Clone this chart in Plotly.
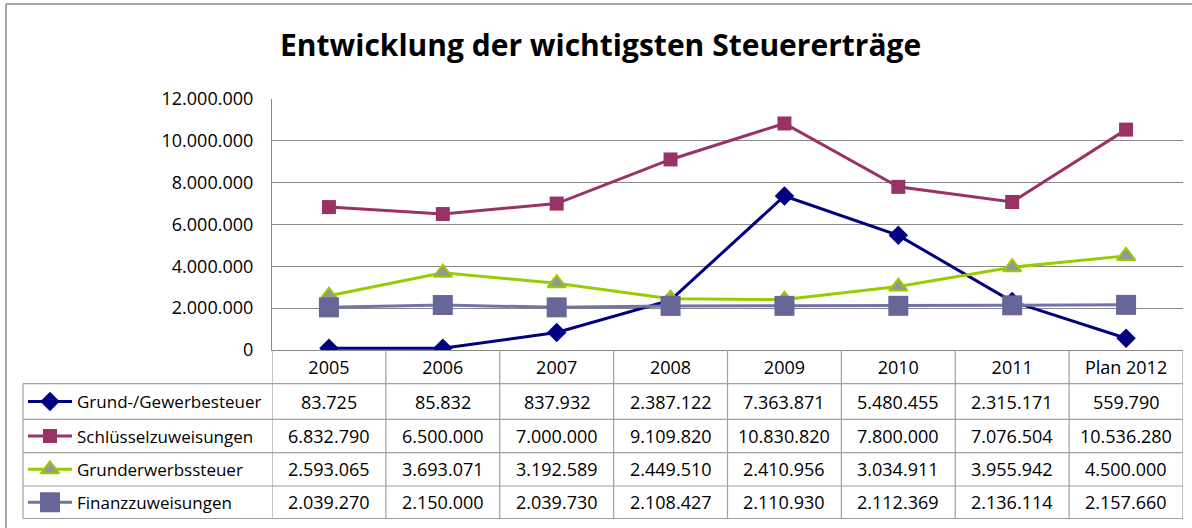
import plotly.graph_objects as go

# ---------------- data ----------------
categories = ["2005", "2006", "2007", "2008", "2009", "2010", "2011", "Plan 2012"]
series_names = ["Grund-/Gewerbesteuer", "Schlüsselzuweisungen", "Grunderwerbssteuer", "Finanzzuweisungen"]
grund_gewerbe = [83725, 85832, 837932, 2387122, 7363871, 5480455, 2315171, 559790]
schluessel = [6832790, 6500000, 7000000, 9109820, 10830820, 7800000, 7076504, 10536280]
grunderwerb = [2593065, 3693071, 3192589, 2449510, 2410956, 3034911, 3955942, 4500000]
finanz = [2039270, 2150000, 2039730, 2108427, 2110930, 2112369, 2136114, 2157660]
y_ticks = [0, 2000000, 4000000, 6000000, 8000000, 10000000, 12000000]
title_text = "Entwicklung der wichtigsten Steuererträge"

# ---------------- styling ----------------
W, H = 1192, 528
FONT = "Open Sans"
styles = [
    dict(line=dict(color="#000080", width=3), marker=dict(symbol="diamond", size=15, color="#000080")),
    dict(line=dict(color="#993366", width=3), marker=dict(symbol="square", size=14, color="#993366")),
    dict(line=dict(color="#99CC00", width=3), marker=dict(symbol="triangle-up", size=16, color="#969696",
                                                          line=dict(color="#99CC00", width=2))),
    dict(line=dict(color="#7373a6", width=3), marker=dict(symbol="square", size=20, color="#666699")),
]
all_series = [grund_gewerbe, schluessel, grunderwerb, finanz]

# pixel geometry of plot/table
PL, PR, PT, PB = 272, 1183, 99, 350
table_rows = [383.7, 419.3, 452.7, 486.0, 518.5]  # horizontal rule y positions (px)
TABLE_LEFT = 23
GRID = "#878787"
TABLE_LINE = "#a0a0a0"


def px(x):
    return x / W


def py(y):
    return 1 - y / H


def de(v):
    return f"{v:,}".replace(",", ".")


fig = go.Figure()

for name, vals, st in zip(series_names, all_series, styles):
    fig.add_trace(go.Scatter(x=categories, y=vals, name=name, mode="lines+markers",
                             line=st["line"], marker=st["marker"], showlegend=False,
                             xaxis="x", yaxis="y"))

# legend keys inside the table (pixel overlay axis)
for i, (name, st) in enumerate(zip(series_names, styles)):
    cy = (table_rows[i] + table_rows[i + 1]) / 2
    fig.add_trace(go.Scatter(x=[28, 72], y=[cy, cy], mode="lines", line=st["line"],
                             showlegend=False, hoverinfo="skip", xaxis="x2", yaxis="y2"))
    fig.add_trace(go.Scatter(x=[50], y=[cy], mode="markers", marker=st["marker"],
                             showlegend=False, hoverinfo="skip", xaxis="x2", yaxis="y2"))

shapes = []
annotations = []

# outer chart border
shapes.append(dict(type="line", xref="paper", yref="paper", x0=px(6), x1=1.01, y0=py(4), y1=py(4),
                   line=dict(color="#8a8a8a", width=1.5)))
shapes.append(dict(type="line", xref="paper", yref="paper", x0=px(6), x1=px(6), y0=py(4), y1=-0.01,
                   line=dict(color="#8a8a8a", width=1.5)))

# table: vertical column boundaries below plot
n = len(categories)
for i in range(n + 1):
    shapes.append(dict(type="line", xref="x", yref="paper", x0=i - 0.5, x1=i - 0.5,
                       y0=py(PB), y1=py(table_rows[-1]), line=dict(color=TABLE_LINE, width=1.2)))
# left border of legend column
shapes.append(dict(type="line", xref="paper", yref="paper", x0=px(TABLE_LEFT), x1=px(TABLE_LEFT),
                   y0=py(table_rows[0]), y1=py(table_rows[-1]), line=dict(color=TABLE_LINE, width=1.2)))
# horizontal rules
for ry in table_rows:
    shapes.append(dict(type="line", xref="paper", yref="paper", x0=px(TABLE_LEFT), x1=px(PR),
                       y0=py(ry), y1=py(ry), line=dict(color=TABLE_LINE, width=1.2)))

# table values (x given as category index)
for r, vals in enumerate(all_series):
    cy = (table_rows[r] + table_rows[r + 1]) / 2
    for ci, v in enumerate(vals):
        annotations.append(dict(x=ci, y=py(cy), xref="x", yref="paper", text=de(v), showarrow=False,
                                xanchor="center", yanchor="middle",
                                font=dict(family=FONT, size=18, color="#000000")))
    annotations.append(dict(x=px(75), y=py(cy), xref="paper", yref="paper", text=series_names[r],
                            showarrow=False, xanchor="left", yanchor="middle",
                            font=dict(family=FONT, size=17, color="#000000")))

# title
annotations.append(dict(x=px(600), y=py(45), xref="paper", yref="paper", text=f"<b>{title_text}</b>",
                        showarrow=False, xanchor="center", yanchor="middle",
                        font=dict(family=FONT, size=30, color="#000000")))

fig.update_layout(
    width=W, height=H, autosize=False,
    margin=dict(l=0, r=0, t=0, b=0, pad=0),
    paper_bgcolor="white", plot_bgcolor="rgba(0,0,0,0)",
    separators=",.",
    font=dict(family=FONT, size=17, color="#000000"),
    xaxis=dict(domain=[px(PL), px(PR)], type="category", categoryorder="array", categoryarray=categories,
               range=[-0.5, n - 0.5], showgrid=False, showline=True, linecolor=GRID, linewidth=1.2,
               ticks="", tickfont=dict(family=FONT, size=18), ticklabelstandoff=1, zeroline=False,
               automargin=False),
    yaxis=dict(domain=[py(PB), py(PT)], range=[0, 12000000], tickvals=y_ticks, tickformat=",d",
               showgrid=True, gridcolor=GRID, gridwidth=1, showline=True, linecolor=GRID, linewidth=1.2,
               ticks="", ticklabelstandoff=14, tickfont=dict(family=FONT, size=18), zeroline=False,
               automargin=False),
    xaxis2=dict(domain=[0, 1], range=[0, W], visible=False, anchor="y2", automargin=False),
    yaxis2=dict(domain=[0, 1], range=[H, 0], visible=False, anchor="x2", automargin=False),
    shapes=shapes, annotations=annotations,
)

fig.write_html("out.html", config={"displayModeBar": False},
               post_script="document.body.style.margin='0';document.body.style.overflow='hidden';")
